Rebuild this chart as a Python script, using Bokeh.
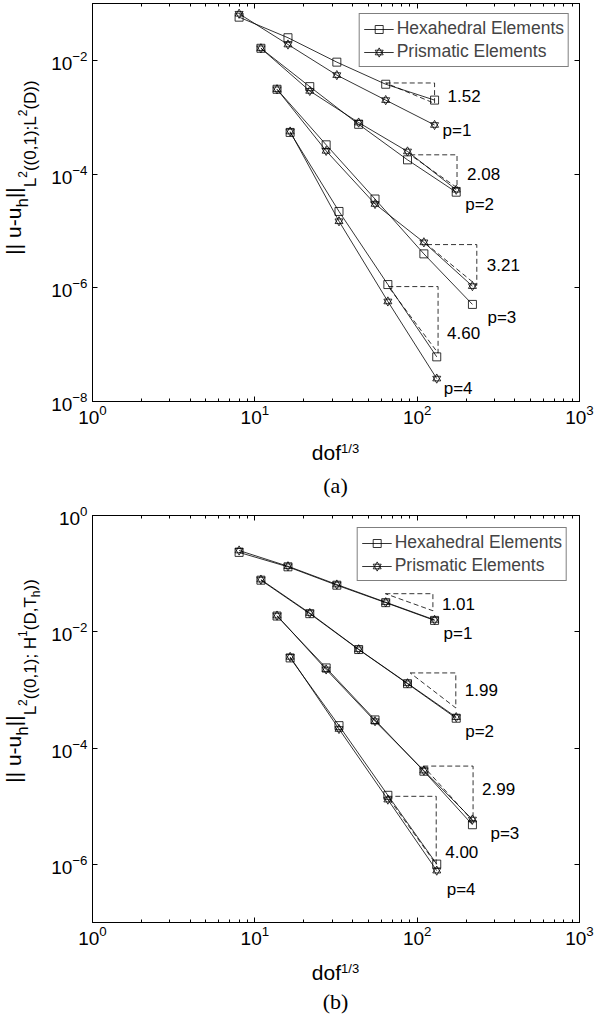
import math
from bokeh.plotting import figure
from bokeh.models import Range1d, FixedTicker, LogAxis, Label, Legend, LegendItem
from bokeh.layouts import column, row
from bokeh.embed import file_html
from bokeh.resources import INLINE

# ---------------- data ----------------
x_p1 = [8, 16, 32, 64, 128]
x_p2 = [10.9, 21.8, 43.6, 87.2, 174]
x_p3 = [13.7, 27.5, 55, 110, 219]
x_p4 = [16.5, 33, 66, 132]

a_hex_p1 = [0.0575, 0.025, 0.0093, 0.0038, 0.0020]
a_pri_p1 = [0.066, 0.019, 0.0055, 0.0020, 0.00073]
a_hex_p2 = [0.0163, 0.00345, 0.00075, 0.000178, 0.000048]
a_pri_p2 = [0.0163, 0.0029, 0.000805, 0.00025, 0.000053]
a_hex_p3 = [0.0031, 0.000327, 3.64e-5, 3.95e-6, 5.1e-7]
a_pri_p3 = [0.0031, 0.000256, 2.98e-5, 6.3e-6, 1.07e-6]
a_hex_p4 = [5.4e-4, 2.2e-5, 1.14e-6, 6.1e-8]
a_pri_p4 = [5.6e-4, 1.48e-5, 5.75e-7, 2.53e-8]

b_hex_p1 = [0.232, 0.131, 0.0633, 0.0317, 0.0157]
b_pri_p1 = [0.25, 0.134, 0.065, 0.0322, 0.016]
b_hex_p2 = [0.0772, 0.0205, 0.00495, 0.00128, 0.000326]
b_pri_p2 = [0.079, 0.021, 0.0050, 0.00130, 0.000340]
b_hex_p3 = [0.01866, 0.00239, 0.000305, 4.0e-5, 4.8e-6]
b_pri_p3 = [0.0190, 0.00225, 0.000290, 4.1e-5, 5.9e-6]
b_hex_p4 = [0.00355, 2.43e-4, 1.54e-5, 1.01e-6]
b_pri_p4 = [0.0037, 2.13e-4, 1.3e-5, 7.8e-7]

a_tri_x0 = [64, 90.6, 115, 66.4]
a_tri_x1 = [128, 176, 233, 134.5]
a_tri_y0 = [4.0e-3, 2.18e-4, 5.75e-6, 1.05e-6]
a_tri_y1 = [1.75e-3, 5.75e-5, 1.1e-6, 7.1e-8]
a_rates = ["1.52", "2.08", "3.21", "4.60"]

b_tri_x0 = [63.7, 90.6, 109, 65.5]
b_tri_x1 = [125, 173, 221, 131]
b_tri_y0 = [0.0452, 1.96e-3, 4.9e-5, 1.48e-5]
b_tri_y1 = [0.023, 4.9e-4, 5.5e-6, 1.0e-6]
b_rates = ["1.01", "1.99", "2.99", "4.00"]

p_labels = ["p=1", "p=2", "p=3", "p=4"]
legend_labels = ["Hexahedral Elements", "Prismatic Elements"]
x_major = [1, 10, 100, 1000]
x_minor = [m * 10 ** k for k in range(3) for m in range(2, 10)]
a_y_major = [1e-8, 1e-6, 1e-4, 1e-2]
b_y_major = [1e-6, 1e-4, 1e-2, 1e0]
a_y_range = (1e-8, 1e-1)
b_y_range = (1e-7, 1e0)

# ---------------- style / layout ----------------
FONT = "Liberation Sans"
MID = 0.347  # distance (em) from alphabetic baseline to the centre of the text box
W = {'|': .26, ' ': .278, 'u': .556, '-': .333, 'h': .556, 'L': .556, '(': .333, ')': .333,
     '0': .556, ',': .278, '1': .556, ';': .278, '2': .556, 'D': .722, 'H': .722, 'T': .611,
     'd': .556, 'o': .556, 'f': .278, '/': .278, '3': .556}


def tw(s, size):
    return sum(W[c] for c in s) * size


# baseline x (px) of each level of the rotated y-axis label
LEVEL_X = {'main': 20, 'sub': 28, 'sub2': 35.5, 'sup': 26, 'subsub': 40}

a_ylabel = [("|| u-u", 21, 'main'), ("h", 17, 'sub'), ("||", 21, 'main'), ("L", 17, 'sub2'),
            ("2", 12, 'sup'), ("((0,1);L", 17, 'sub2'), ("2", 12, 'sup'), ("(D))", 17, 'sub2')]
b_ylabel = [("|| u-u", 21, 'main'), ("h", 17, 'sub'), ("||", 21, 'main'), ("L", 17, 'sub2'),
            ("2", 12, 'sup'), ("((0,1); H", 17, 'sub2'), ("1", 12, 'sup'), ("(D,T", 17, 'sub2'),
            ("h", 12, 'subsub'), ("))", 17, 'sub2')]

a_rate_off = [(13, 3), (10, 3), (10, 0), (9, 13)]
a_p_off = [(8, 6), (9, 12), (15, 13), (7, 10)]
b_rate_off = [(9, 2), (9, 0), (9, -5), (9, 22)]
b_p_off = [(9, 13), (9, 13), (18, 9), (10, 19)]

TOTAL_W = 594
YL_W = 48
MAIN_W = TOTAL_W - YL_W
BORDER_L, BORDER_R = 43, 15
FRAME_W = MAIN_W - BORDER_L - BORDER_R
FRAME_CX = YL_W + BORDER_L + FRAME_W / 2  # frame centre within the full width


def blank(width, height):
    f = figure(width=width, height=height, x_range=Range1d(0, 1), y_range=Range1d(0, 1),
               output_backend="svg", toolbar_location=None,
               x_axis_location=None, y_axis_location=None,
               min_border_left=0, min_border_right=0, min_border_top=0, min_border_bottom=0)
    f.outline_line_color = None
    f.grid.visible = False
    f.background_fill_color = "white"
    f.border_fill_color = "white"
    return f


def style_axis(ax, ticks, minor, labels=True):
    ax.ticker = FixedTicker(ticks=ticks, minor_ticks=minor)
    ax.axis_line_color = "black"
    ax.axis_line_width = 1
    ax.major_tick_in = 5
    ax.major_tick_out = 0
    ax.minor_tick_in = 3
    ax.minor_tick_out = 0
    ax.major_tick_line_color = "black"
    ax.minor_tick_line_color = "black"
    if labels:
        ax.major_label_text_font = FONT
        ax.major_label_text_font_size = "19px"
        ax.major_label_text_color = "black"
    else:
        ax.major_label_text_font_size = "0px"
        ax.major_label_standoff = 0
        ax.major_label_overrides = {t: "" for t in ticks}


def build(xs, hexs, pris, tx0, tx1, ty0, ty1, rates, yr, ymaj, height, top, bottom,
          rate_off, p_off, leg_margin):
    p = figure(width=MAIN_W, height=height, x_axis_type="log", y_axis_type="log",
               x_range=Range1d(1, 1000), y_range=Range1d(*yr),
               output_backend="svg", toolbar_location=None,
               min_border_left=BORDER_L, min_border_right=BORDER_R,
               min_border_top=top, min_border_bottom=bottom)
    p.grid.visible = False
    p.outline_line_color = "black"
    p.background_fill_color = "white"
    p.border_fill_color = "white"
    style_axis(p.xaxis[0], x_major, x_minor)
    p.xaxis[0].major_label_standoff = 3
    style_axis(p.yaxis[0], ymaj, [])
    p.yaxis[0].major_label_standoff = 5
    top_ax = LogAxis()
    style_axis(top_ax, x_major, x_minor, labels=False)
    p.add_layout(top_ax, "above")
    right_ax = LogAxis()
    style_axis(right_ax, ymaj, [], labels=False)
    p.add_layout(right_ax, "right")

    leg_hex, leg_pri = [], []
    for i in range(len(xs)):
        lh = p.line(xs[i], hexs[i], line_color="black", line_width=0.8)
        sh = p.scatter(xs[i], hexs[i], marker="square", size=8, fill_color=None,
                       line_color="black", line_width=0.8)
        lp = p.line(xs[i], pris[i], line_color="black", line_width=0.8)
        t1 = p.scatter(xs[i], pris[i], marker="triangle", size=8, fill_color=None,
                       line_color="black", line_width=0.8)
        t2 = p.scatter(xs[i], pris[i], marker="inverted_triangle", size=8, fill_color=None,
                       line_color="black", line_width=0.8)
        if i == 0:
            leg_hex = [lh, sh]
            leg_pri = [lp, t1, t2]

    for i in range(len(tx0)):
        p.line([tx0[i], tx1[i], tx1[i], tx0[i]], [ty0[i], ty0[i], ty1[i], ty0[i]],
               line_color="black", line_width=0.8, line_dash="5 3")
        dx, dy = rate_off[i]
        p.add_layout(Label(x=tx1[i], y=math.sqrt(ty0[i] * ty1[i]), x_offset=dx, y_offset=-dy,
                           text=rates[i], text_font=FONT, text_font_size="17px",
                           text_baseline="middle", text_align="left", text_color="black"))
        dx, dy = p_off[i]
        p.add_layout(Label(x=xs[i][-1], y=min(hexs[i][-1], pris[i][-1]), x_offset=dx, y_offset=-dy,
                           text=p_labels[i], text_font=FONT, text_font_size="17px",
                           text_baseline="middle", text_align="left", text_color="black"))

    legend = Legend(items=[LegendItem(label=legend_labels[0], renderers=leg_hex),
                           LegendItem(label=legend_labels[1], renderers=leg_pri)],
                    location="top_right", margin=leg_margin, padding=4, spacing=2,
                    glyph_width=30, glyph_height=20, label_height=20, label_standoff=3,
                    label_text_font=FONT, label_text_font_size="17.5px",
                    border_line_color="black", border_line_width=1,
                    background_fill_color="white", background_fill_alpha=1)
    p.add_layout(legend)
    return p


def ylabel_fig(pieces, height, center_y):
    f = blank(YL_W, height)
    total = sum(tw(s, sz) for s, sz, _ in pieces)
    y = center_y - total / 2
    for s, sz, lvl in pieces:
        f.add_layout(Label(x=LEVEL_X[lvl] - MID * sz, y=y, x_units="screen", y_units="screen",
                           text=s, angle=math.pi / 2, text_font=FONT, text_font_size=f"{sz}px",
                           text_baseline="middle", text_align="left", text_color="black"))
        y += tw(s, sz)
    return f


def xlabel_fig(height, dof_y, sup_y, cap_y, caption):
    f = blank(TOTAL_W, height)
    wd, ws = tw("dof", 21), tw("1/3", 13)
    x0 = FRAME_CX - (wd + ws) / 2
    f.add_layout(Label(x=x0, y=dof_y, x_units="screen", y_units="screen", text="dof",
                       text_font=FONT, text_font_size="21px", text_baseline="middle",
                       text_align="left", text_color="black"))
    f.add_layout(Label(x=x0 + wd, y=sup_y, x_units="screen", y_units="screen", text="1/3",
                       text_font=FONT, text_font_size="13px", text_baseline="middle",
                       text_align="left", text_color="black"))
    f.add_layout(Label(x=FRAME_CX, y=cap_y, x_units="screen", y_units="screen", text=caption,
                       text_font="Liberation Serif", text_font_size="22px",
                       text_baseline="middle", text_align="center", text_color="black"))
    return f


# page rows: (a) plot 0-436, labels 436-499 ; (b) plot 499-960, labels 960-1020
A_H, A_TOP, A_BOT = 436, 3, 35
B_H, B_TOP, B_BOT = 461, 16, 38
pa = build([x_p1, x_p2, x_p3, x_p4],
           [a_hex_p1, a_hex_p2, a_hex_p3, a_hex_p4],
           [a_pri_p1, a_pri_p2, a_pri_p3, a_pri_p4],
           a_tri_x0, a_tri_x1, a_tri_y0, a_tri_y1, a_rates,
           a_y_range, a_y_major, A_H, A_TOP, A_BOT, a_rate_off, a_p_off, 10)
pb = build([x_p1, x_p2, x_p3, x_p4],
           [b_hex_p1, b_hex_p2, b_hex_p3, b_hex_p4],
           [b_pri_p1, b_pri_p2, b_pri_p3, b_pri_p4],
           b_tri_x0, b_tri_x1, b_tri_y0, b_tri_y1, b_rates,
           b_y_range, b_y_major, B_H, B_TOP, B_BOT, b_rate_off, b_p_off, 12)

yla = ylabel_fig(a_ylabel, A_H, A_BOT + (A_H - A_TOP - A_BOT) / 2)
ylb = ylabel_fig(b_ylabel, B_H, B_BOT + (B_H - B_TOP - B_BOT) / 2)
xla = xlabel_fig(63, 47, 51, 14, "(a)")
xlb = xlabel_fig(60, 48, 52.5, 19, "(b)")

layout = column(row(yla, pa, spacing=0), xla, row(ylb, pb, spacing=0), xlb, spacing=0)
open("out.html", "w").write(file_html(layout, INLINE))
